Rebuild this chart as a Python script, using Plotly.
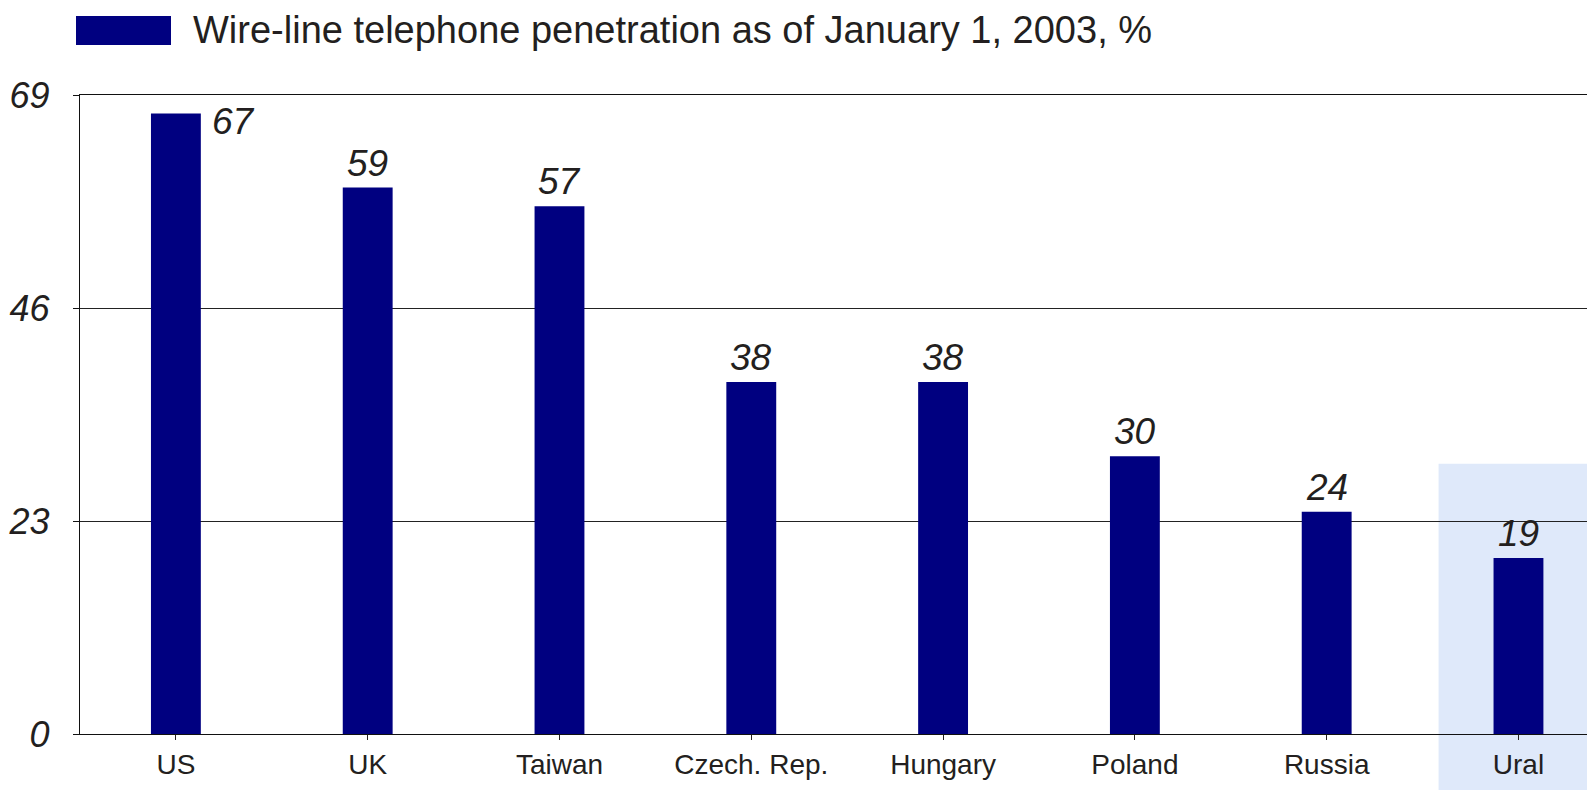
import plotly.graph_objects as go

categories = ["US", "UK", "Taiwan", "Czech. Rep.", "Hungary", "Poland", "Russia", "Ural"]
values = [67, 59, 57, 38, 38, 30, 24, 19]
y_ticks = [0, 23, 46, 69]
series_name = "Wire-line telephone penetration as of January 1, 2003, %"

OFF = 8  # default page body margin
W, H = 1595 - OFF, 790 - OFF
L, T, B = 80 - OFF, 95 - OFF, 56
plot_w = W - L
plot_h = H - T - B
x_max = 7.399
x_min = -0.5
span = x_max - x_min

navy = "#000080"
txt = "#231f20"
narrow = "Liberation Sans Narrow, Liberation Sans, Arial Narrow, sans-serif"
italic_font = "Liberation Sans, Arial, sans-serif"


def px_y(y):  # page pixel y -> paper fraction
    return (H - B - (y - OFF)) / plot_h


def px_x(x):  # page pixel x -> paper fraction
    return (x - OFF - L) / plot_w


fig = go.Figure()
fig.add_trace(go.Bar(x=list(range(len(categories))), y=values, width=0.26,
                     marker=dict(color=navy, line=dict(width=0)),
                     name=series_name, showlegend=False, hoverinfo="x+y"))

annotations = []
for i, v in enumerate(values):
    if i == 0:
        annotations.append(dict(x=i, y=v, xref="x", yref="y", text=str(v), showarrow=False,
                                xanchor="left", yanchor="middle", xshift=34, yshift=-8,
                                font=dict(family=italic_font, size=37, color=txt, style="italic")))
    else:
        annotations.append(dict(x=i, y=v, xref="x", yref="y", text=str(v), showarrow=False,
                                xanchor="center", yanchor="bottom", yshift=2,
                                font=dict(family=italic_font, size=37, color=txt, style="italic")))

# custom legend
annotations.append(dict(x=px_x(191), y=px_y(30.5), xref="paper", yref="paper",
                        text=series_name, showarrow=False, xanchor="left", yanchor="middle",
                        font=dict(family=narrow, size=38, color=txt)))

# highlight box behind "Ural"
ural_idx = categories.index("Ural")
hx0 = ((ural_idx - 0.5 + 16 / 191.8) - x_min) / span

shapes = [
    dict(type="rect", xref="paper", yref="paper", x0=hx0, x1=1.05, y0=-0.12, y1=29.17 / 69,
         fillcolor="#dfe9fa", line=dict(width=0), layer="below"),
    dict(type="rect", xref="paper", yref="paper", x0=px_x(76), x1=px_x(171), y0=px_y(45), y1=px_y(16),
         fillcolor=navy, line=dict(width=0)),
]

fig.update_layout(
    width=W, height=H,
    margin=dict(l=L, r=0, t=T, b=B, pad=0),
    paper_bgcolor="white", plot_bgcolor="rgba(0,0,0,0)",
    annotations=annotations, shapes=shapes,
    xaxis=dict(range=[x_min, x_max], tickmode="array", tickvals=list(range(len(categories))),
               ticktext=categories, tickson="boundaries", ticks="outside", ticklen=5,
               tickcolor="#231f20", showline=True, mirror=True, linecolor="#111", linewidth=1.3,
               showgrid=False, zeroline=False, ticklabelstandoff=0,
               tickfont=dict(family=narrow, size=28, color=txt)),
    yaxis=dict(range=[0, 69], tickmode="array", tickvals=y_ticks, ticks="outside", ticklen=6,
               tickcolor="#111", showline=True, linecolor="#111", linewidth=1.3,
               showgrid=True, gridcolor="#222", gridwidth=1.2, zeroline=False,
               ticklabelstandoff=16,
               tickfont=dict(family=italic_font, size=36, color=txt, style="italic")),
)

fig.write_html("out.html")
